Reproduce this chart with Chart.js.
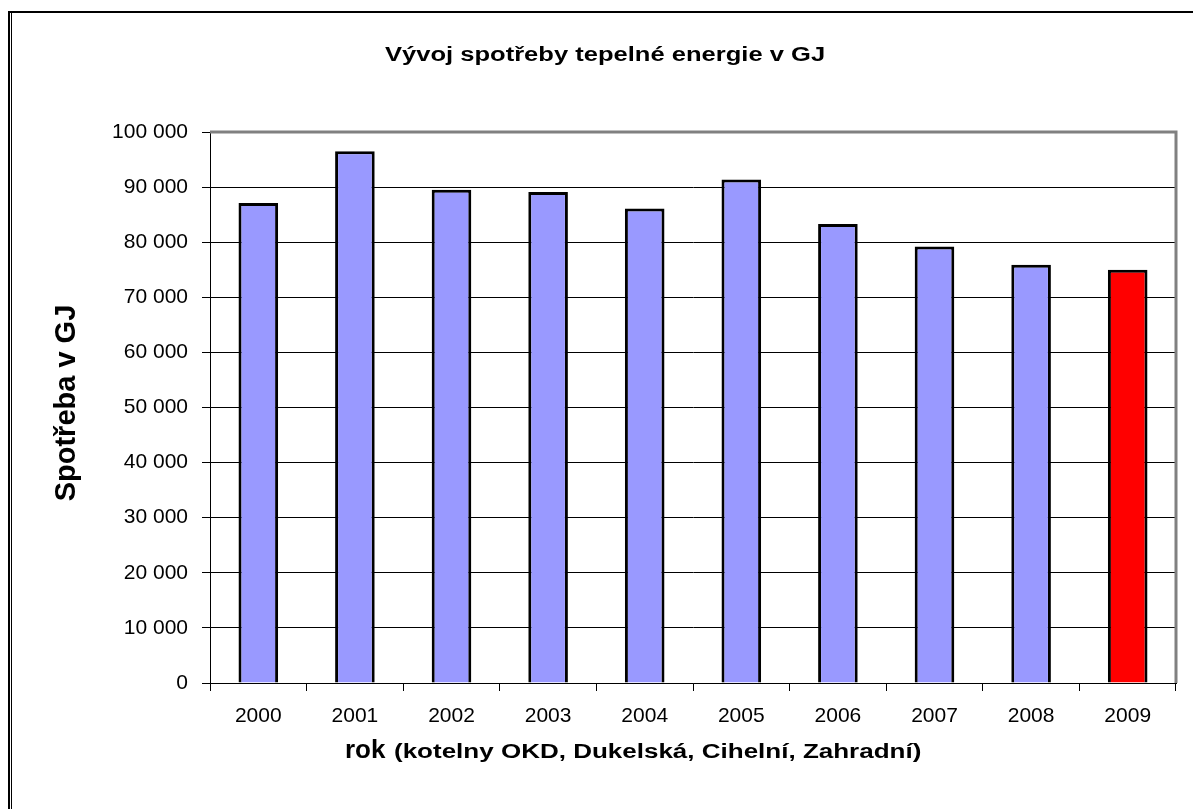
<!DOCTYPE html>
<html>
<head>
<meta charset="utf-8">
<script src="https://cdn.jsdelivr.net/npm/chart.js@4"></script>
<style>
  html, body { margin: 0; padding: 0; background: #fff; }
  #wrap { width: 1193px; height: 809px; position: relative; }
</style>
</head>
<body>
<div id="wrap"><canvas id="chart" width="1193" height="809"></canvas></div>
<script>
// data
const years = ["2000", "2001", "2002", "2003", "2004", "2005", "2006", "2007", "2008", "2009"];
const consumption = [87100, 96500, 89500, 89100, 86100, 91400, 83300, 79200, 75900, 75000];
const barColors = ["#9999ff", "#9999ff", "#9999ff", "#9999ff", "#9999ff", "#9999ff", "#9999ff", "#9999ff", "#9999ff", "#ff0000"];

const chartTitle = "Vývoj spotřeby tepelné energie v GJ";
const yTitle = "Spotřeba v GJ";
const xTitleBig = "rok";
const xTitleRest = "(kotelny OKD, Dukelská, Cihelní, Zahradní)";

const FONT = "'Liberation Sans', Arial, sans-serif";

// frame, plot border and titles (text is horizontally wide in the original)
const decorations = {
    id: "decorations",
    afterDraw(chart) {
        const ctx = chart.ctx;
        const a = chart.chartArea;
        ctx.save();

        // outer frame
        ctx.fillStyle = "#000";
        ctx.fillRect(8, 11, 1185, 2);
        ctx.fillRect(8, 11, 2, 798);
        ctx.fillRect(11, 13, 1, 796);

        // gray plot border top/right
        ctx.strokeStyle = "#808080";
        ctx.lineWidth = 3;
        ctx.beginPath();
        ctx.moveTo(a.left, a.top);
        ctx.lineTo(a.right, a.top);
        ctx.lineTo(a.right, a.bottom);
        ctx.stroke();

        ctx.fillStyle = "#000";
        ctx.textBaseline = "alphabetic";

        // chart title
        ctx.save();
        ctx.font = "bold 19.5px " + FONT;
        ctx.translate(385, 61);
        ctx.scale(1.31, 1);
        ctx.textAlign = "left";
        ctx.fillText(chartTitle, 0, 0);
        ctx.restore();

        // y title
        ctx.save();
        ctx.font = "bold 29px " + FONT;
        ctx.translate(75, 403);
        ctx.rotate(-Math.PI / 2);
        ctx.textAlign = "center";
        ctx.fillText(yTitle, 0, 0);
        ctx.restore();

        // x title, two sizes
        ctx.save();
        ctx.textAlign = "left";
        ctx.font = "bold 26px " + FONT;
        ctx.fillText(xTitleBig, 345, 758);
        ctx.font = "bold 20px " + FONT;
        ctx.translate(394, 758);
        ctx.scale(1.3, 1);
        ctx.fillText(xTitleRest, 0, 0);
        ctx.restore();

        ctx.restore();
    }
};

function spaced(v) {
    return String(v).replace(/\B(?=(\d{3})+(?!\d))/g, " ");
}

const ctx = document.getElementById("chart").getContext("2d");
new Chart(ctx, {
    type: "bar",
    data: {
        labels: years,
        datasets: [{
            data: consumption,
            backgroundColor: barColors,
            borderColor: "#000",
            borderWidth: 3,
            categoryPercentage: 1,
            barPercentage: 0.41
        }]
    },
    options: {
        responsive: false,
        animation: false,
        layout: { padding: { top: 132, right: 17, left: 0, bottom: 0 } },
        plugins: {
            legend: { display: false },
            title: { display: false },
            tooltip: { enabled: false }
        },
        scales: {
            x: {
                afterFit: scale => { scale.height = 809 - 683; },
                grid: {
                    offset: true,
                    drawOnChartArea: false,
                    drawTicks: true,
                    tickLength: 8,
                    color: "#000"
                },
                border: { display: true, color: "#000", width: 1 },
                ticks: {
                    color: "#000",
                    padding: 13,
                    font: { family: FONT, size: 21 }
                }
            },
            y: {
                min: 0,
                max: 100000,
                afterFit: scale => { scale.width = 210; },
                grid: {
                    color: "#000",
                    lineWidth: 1,
                    drawTicks: true,
                    tickLength: 8
                },
                border: { display: true, color: "#000", width: 1 },
                ticks: {
                    stepSize: 10000,
                    color: "#000",
                    padding: 14,
                    font: { family: FONT, size: 21 },
                    callback: v => spaced(v)
                }
            }
        }
    },
    plugins: [decorations]
});
</script>
</body>
</html>
